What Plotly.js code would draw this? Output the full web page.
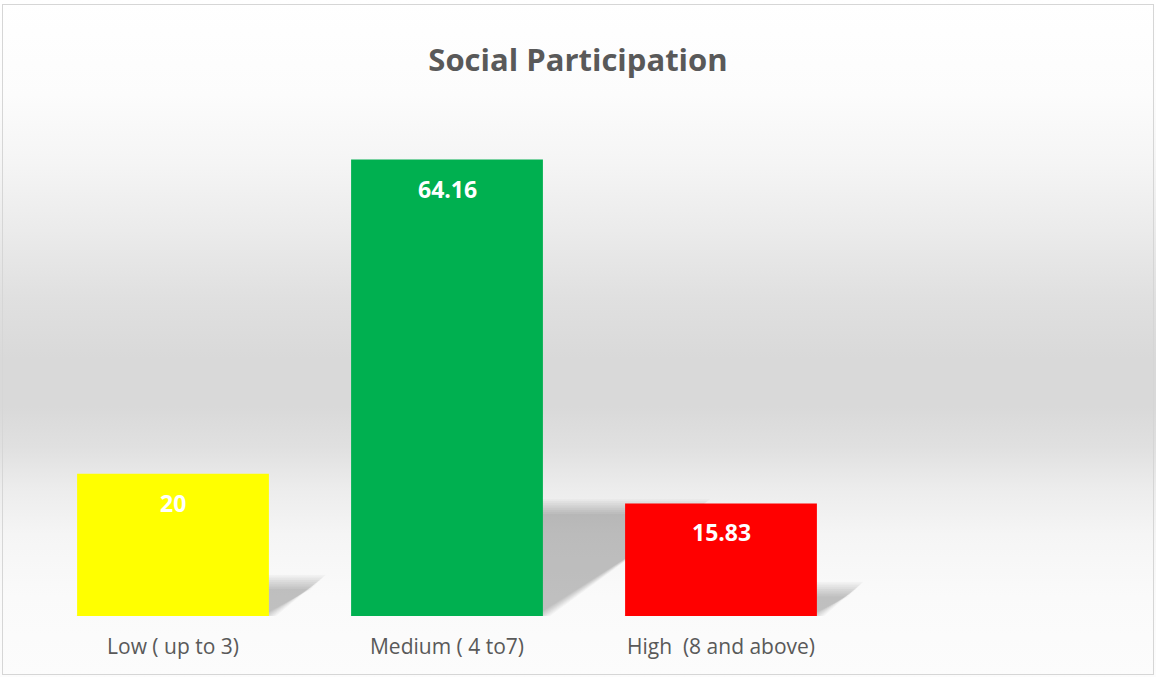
<!DOCTYPE html>
<html>
<head>
<meta charset="utf-8">
<script src="https://cdn.plot.ly/plotly-3.0.1.min.js"></script>
<style>
  html, body { margin: 0; padding: 0; background: #ffffff; }
  #wrap { position: relative; width: 1156px; height: 677px; overflow: hidden; }
  #chart {
    position: absolute; left: 0; top: 0; width: 1156px; height: 677px;
    background: linear-gradient(to bottom,
      #ffffff 0%, #fcfcfc 14%, #f5f5f5 24%, #ebebeb 34%, #e0e0e0 44%,
      #d9d9d9 53%, #d9d9d9 60%, #e0e0e0 66%, #ececec 72%, #f5f5f5 79%,
      #fafafa 88%, #fcfcfc 100%);
  }
  #frame {
    position: absolute; left: 2px; top: 4px; width: 1150px; height: 669px;
    border: 1px solid #d6d6d6; pointer-events: none;
  }
</style>
</head>
<body>
<div id="wrap">
  <div id="chart"></div>
  <div id="frame"></div>
</div>
<script>
// ---- data ----
const categories = ["Low ( up to 3)", "Medium ( 4 to7)", "High  (8 and above)"];
const values = [20, 64.16, 15.83];
const valueLabels = ["20", "64.16", "15.83"];
const barColors = ["#FFFF00", "#00B050", "#FF0000"];
const chartTitle = "Social Participation";

// ---- style params ----
const barWidth = 0.7;
const half = barWidth / 2;
const FONT = "'Open Sans', 'Noto Sans', sans-serif";
const yMax = 70;
const plotW = 1156 - 36 - 24, plotH = 677 - 118 - 61;
const pxPerX = plotW / 4, pxPerY = plotH / yMax;

const trace = {
  type: "bar",
  x: categories,
  y: values,
  marker: { color: barColors, line: { width: 0 } },
  width: barWidth,
  hoverinfo: "x+y",
  cliponaxis: false
};

// value labels inside bars near their tops
const annotations = categories.map((c, i) => ({
  x: c, y: values[i], xref: "x", yref: "y",
  text: "<b>" + valueLabels[i] + "</b>",
  showarrow: false, yanchor: "middle", yshift: -29,
  font: { family: FONT, size: 23, color: "#ffffff" }
}));

// soft perspective drop shadows behind bars (stacked translucent layers), derived from bar values
const shapes = [];
const N = 9;
values.forEach((v, i) => {
  const h = 0.24 * v;                         // shadow height (data units)
  const d = 1.46 * h * pxPerY / pxPerX;       // skew to the right (category units)
  const x0 = i - half, x1 = i + half;
  for (let k = 0; k < N; k++) {
    const e = (k - (N - 1) / 2) * 1.8;
    const ex = e / pxPerX, ey = e / pxPerY;
    shapes.push({
      type: "path", xref: "x", yref: "y", layer: "below",
      path: `M ${x0 + 0.02 - ex},0 L ${x1 + ex},0 L ${x1 + d + ex},${h + ey} L ${x0 + d - ex},${h + ey} Z`,
      fillcolor: "rgba(0,0,0,0.027)", line: { width: 0 }
    });
  }
});

const layout = {
  width: 1156, height: 677,
  paper_bgcolor: "rgba(0,0,0,0)",
  plot_bgcolor: "rgba(0,0,0,0)",
  margin: { l: 36, r: 24, t: 118, b: 61 },
  title: {
    text: "<b>" + chartTitle + "</b>",
    x: 0.5, xanchor: "center", y: 0.911, yanchor: "middle",
    font: { family: FONT, size: 31, color: "#595959" }
  },
  xaxis: {
    type: "category",
    range: [-0.5, 3.5],
    showgrid: false, zeroline: false, showline: false, ticks: "",
    ticklabelstandoff: 16,
    tickfont: { family: FONT, size: 21, color: "#595959" }
  },
  yaxis: {
    range: [0, yMax],
    showgrid: false, zeroline: false, showline: false, showticklabels: false, ticks: ""
  },
  showlegend: false,
  bargap: 0.3,
  annotations: annotations,
  shapes: shapes
};

Plotly.newPlot("chart", [trace], layout, { displayModeBar: false, staticPlot: true });
</script>
</body>
</html>
